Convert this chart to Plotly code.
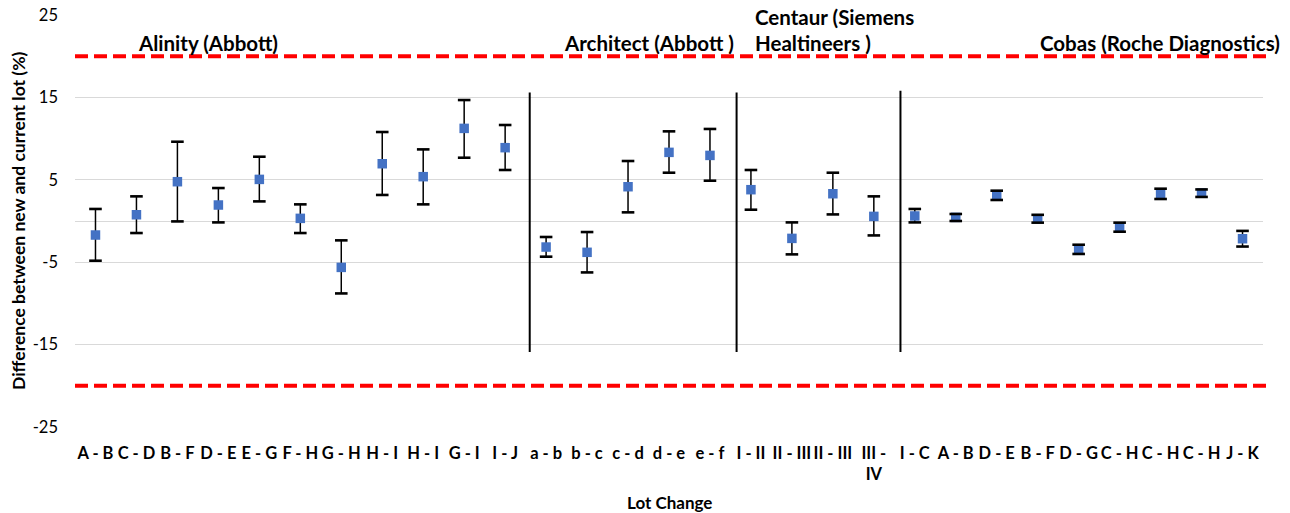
import plotly.graph_objects as go

lots = ["A - B", "C - D", "B - F", "D - E", "E - G", "F - H", "G - H", "H - I", "H - I", "G - I", "I - J",
        "a - b", "b - c", "c - d", "d - e", "e - f",
        "I - II", "II - III", "II - III", "III -<br>IV",
        "I - C", "A - B", "D - E", "B - F", "D - G", "C - H", "C - H", "C - H", "J - K"]

mean_diff = [-1.7, 0.76, 4.77, 1.94, 5.05, 0.32, -5.63, 6.95, 5.38, 11.24, 8.9,
             -3.16, -3.8, 4.16, 8.33, 7.96,
             3.8, -2.11, 3.31, 0.56,
             0.61, 0.44, 3.11, 0.28, -3.4, -0.73, 3.28, 3.4, -2.15]

upper_ci = [1.46, 2.99, 9.62, 4.0, 7.8, 2.02, -2.35, 10.8, 8.69, 14.68, 11.65,
            -1.94, -1.34, 7.28, 10.88, 11.17,
            6.19, -0.17, 5.86, 2.99,
            1.46, 0.85, 3.68, 0.75, -2.88, -0.2, 3.92, 3.83, -1.2]

lower_ci = [-4.82, -1.46, -0.05, -0.17, 2.38, -1.46, -8.79, 3.16, 2.02, 7.68, 6.19,
            -4.33, -6.24, 1.05, 5.86, 4.89,
            1.37, -4.05, 0.8, -1.75,
            -0.17, 0.0, 2.55, -0.2, -4.0, -1.3, 2.67, 2.92, -3.1]

y_ticks = [25, 15, 5, -5, -15, -25]
limit = 20

x_pos = list(range(len(lots)))
err_plus = [u - m for u, m in zip(upper_ci, mean_diff)]
err_minus = [m - l for m, l in zip(mean_diff, lower_ci)]

FONT = "Lato"

fig = go.Figure()
# error-bar stems (behind the markers)
fig.add_trace(go.Scatter(
    x=x_pos, y=mean_diff, mode="markers",
    marker=dict(size=0.1, color="rgba(0,0,0,0)"),
    error_y=dict(type="data", symmetric=False, array=err_plus, arrayminus=err_minus,
                 color="#000000", thickness=1.5, width=0),
    showlegend=False, hoverinfo="skip"))
# mean difference markers
fig.add_trace(go.Scatter(
    x=x_pos, y=mean_diff, mode="markers",
    marker=dict(symbol="square", size=9.5, color="#4472C4"),
    showlegend=False, hoverinfo="skip"))
# error-bar caps (on top, as in the original)
fig.add_trace(go.Scatter(
    x=x_pos + x_pos, y=upper_ci + lower_ci, mode="markers",
    marker=dict(symbol="line-ew", size=9, line=dict(color="#000000", width=2.6)),
    showlegend=False, hoverinfo="skip"))

shapes = []
for yv in (limit, -limit):
    shapes.append(dict(type="line", xref="paper", yref="y", x0=0, x1=1.004, y0=yv, y1=yv,
                       line=dict(color="#ff0000", width=4, dash="13px,6px")))
for xv, ytop in ((10.6, 15.6), (15.65, 15.6), (19.65, 15.8)):
    shapes.append(dict(type="line", xref="x", yref="y", x0=xv, x1=xv, y0=-15.9, y1=ytop,
                       line=dict(color="#000000", width=2)))

lab_font = dict(family=FONT, size=20.5, color="#000000", weight="bold")
annotations = [
    dict(text="Alinity (Abbott)", xref="paper", yref="y", x=(207.5 - 75) / 1188, y=21.6,
         showarrow=False, xanchor="center", yanchor="middle", font=lab_font),
    dict(text="Architect (Abbott )", xref="paper", yref="y", x=(649 - 75) / 1188, y=21.6,
         showarrow=False, xanchor="center", yanchor="middle", font=lab_font),
    dict(text="Centaur (Siemens", xref="paper", yref="y", x=(753 - 75) / 1188, y=24.8,
         showarrow=False, xanchor="left", yanchor="middle", font=lab_font),
    dict(text="Healtineers )", xref="paper", yref="y", x=(753 - 75) / 1188, y=21.6,
         showarrow=False, xanchor="left", yanchor="middle", font=lab_font),
    dict(text="Cobas (Roche Diagnostics)", xref="paper", yref="y", x=(1160 - 75) / 1188, y=21.6,
         showarrow=False, xanchor="center", yanchor="middle", font=lab_font),
    dict(text="Difference between new and current lot (%)", xref="paper", yref="paper",
         x=0, xshift=-57, y=0.5, textangle=-90, showarrow=False,
         xanchor="center", yanchor="middle",
         font=dict(family=FONT, size=17.5, color="#000000", weight="bold")),
    dict(text="Lot Change", xref="paper", yref="paper", x=0.5, y=0, yshift=-75,
         showarrow=False, xanchor="center", yanchor="middle",
         font=dict(family=FONT, size=17, color="#000000", weight="bold")),
]

fig.update_layout(
    width=1290, height=513,
    margin=dict(l=75, r=27, t=15, b=86, autoexpand=False),
    paper_bgcolor="white", plot_bgcolor="white",
    shapes=shapes, annotations=annotations,
    xaxis=dict(range=[-0.5, len(lots) - 0.5], tickmode="array", tickvals=x_pos, ticktext=lots,
               showgrid=False, zeroline=False, showline=False, ticks="",
               tickfont=dict(family=FONT, size=16.5, color="#000000", weight="bold"),
               ticklabelstandoff=14, fixedrange=True, automargin=False),
    yaxis=dict(range=[-25, 25], tickmode="array", tickvals=y_ticks,
               ticktext=[str(v) for v in y_ticks],
               showgrid=True, gridcolor="#d9d9d9", gridwidth=1,
               zeroline=True, zerolinecolor="#d9d9d9", zerolinewidth=1,
               showline=False, ticks="",
               tickfont=dict(family=FONT, size=16.5, color="#000000"),
               ticklabelstandoff=16, fixedrange=True, automargin=False),
)

fig.write_html("out.html")
